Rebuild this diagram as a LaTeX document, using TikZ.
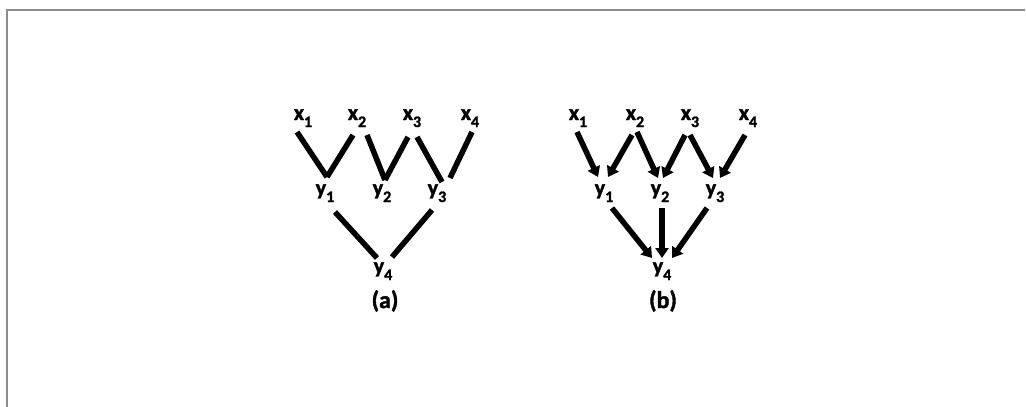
\documentclass[tikz,border=0pt]{standalone}
\usepackage{fontspec}
\setmainfont{Carlito}
\newfontfamily\heavy{Carlito Bold}[FakeBold=1.6]
\usetikzlibrary{arrows.meta}
\newcommand\lab[2]{#1\raisebox{-7pt}{\fontsize{16}{16}\selectfont #2}}
\tikzset{
  lbl/.style={inner sep=0pt, anchor=base, font=\fontsize{22}{24}\heavy},
  captext/.style={inner sep=0pt, anchor=base, font=\fontsize{24}{26}\heavy},
  edge/.style={line width=5.5pt},
  arr/.style={line width=5.5pt, -{Triangle[length=10pt,width=13pt]}},
  frame/.style={draw=black!45, line width=2pt}
}
\begin{document}
\begin{tikzpicture}[x=1pt,y=-1pt]
\useasboundingbox (0,0) rectangle (1026,407);
\draw[frame] (6.5,407) -- (6.5,9.5) -- (1025,9.5);
% (a)
\node[lbl] (a1) at (303,120) {\lab{x}{1}};
\node[lbl] (a2) at (357,120) {\lab{x}{2}};
\node[lbl] (a3) at (412,120) {\lab{x}{3}};
\node[lbl] (a4) at (470,120) {\lab{x}{4}};
\node[lbl] (ay1) at (325,195) {\lab{y}{1}};
\node[lbl] (ay2) at (382,195) {\lab{y}{2}};
\node[lbl] (ay3) at (437,195) {\lab{y}{3}};
\node[lbl] (ay4) at (383,273) {\lab{y}{4}};
\node[captext] (capa) at (385,308) {(a)};
\draw[edge] ([shift={(-6,12)}]a1.base) -- ([shift={(2,-18)}]ay1.base);
\draw[edge] ([shift={(-4,15)}]a2.base) -- ([shift={(2,-18)}]ay1.base);
\draw[edge] ([shift={(10,15)}]a2.base) -- ([shift={(3,-15)}]ay2.base);
\draw[edge] ([shift={(-4,17)}]a3.base) -- ([shift={(3,-15)}]ay2.base);
\draw[edge] ([shift={(5,17)}]a3.base) -- ([shift={(5,-13)}]ay3.base);
\draw[edge] ([shift={(2,12)}]a4.base) -- ([shift={(13,-17)}]ay3.base);
\draw[edge] ([shift={(10,17)}]ay1.base) -- ([shift={(-6,-15)}]ay4.base);
\draw[edge] ([shift={(-5,15)}]ay3.base) -- ([shift={(9,-16)}]ay4.base);
% (b)
\node[lbl] (b1) at (578,120) {\lab{x}{1}};
\node[lbl] (b2) at (635,120) {\lab{x}{2}};
\node[lbl] (b3) at (690,120) {\lab{x}{3}};
\node[lbl] (b4) at (748,120) {\lab{x}{4}};
\node[lbl] (by1) at (604,195) {\lab{y}{1}};
\node[lbl] (by2) at (660,195) {\lab{y}{2}};
\node[lbl] (by3) at (715,195) {\lab{y}{3}};
\node[lbl] (by4) at (662,273) {\lab{y}{4}};
\node[captext] (capb) at (663,308) {(b)};
\draw[arr] ([shift={(-1,12)}]b1.base) -- ([shift={(-6,-18)}]by1.base);
\draw[arr] ([shift={(-3,15)}]b2.base) -- ([shift={(4,-18)}]by1.base);
\draw[arr] ([shift={(2,12)}]b2.base) -- ([shift={(-2,-17)}]by2.base);
\draw[arr] ([shift={(-5,15)}]b3.base) -- ([shift={(3,-17)}]by2.base);
\draw[arr] ([shift={(0,15)}]b3.base) -- ([shift={(-2,-17)}]by3.base);
\draw[arr] ([shift={(-3,15)}]b4.base) -- ([shift={(5,-17)}]by3.base);
\draw[arr] ([shift={(8,13)}]by1.base) -- ([shift={(-10,-15)}]by4.base);
\draw[arr] ([shift={(2,13)}]by2.base) -- ([shift={(0,-15)}]by4.base);
\draw[arr] ([shift={(-8,13)}]by3.base) -- ([shift={(10,-15)}]by4.base);
\end{tikzpicture}
\end{document}
